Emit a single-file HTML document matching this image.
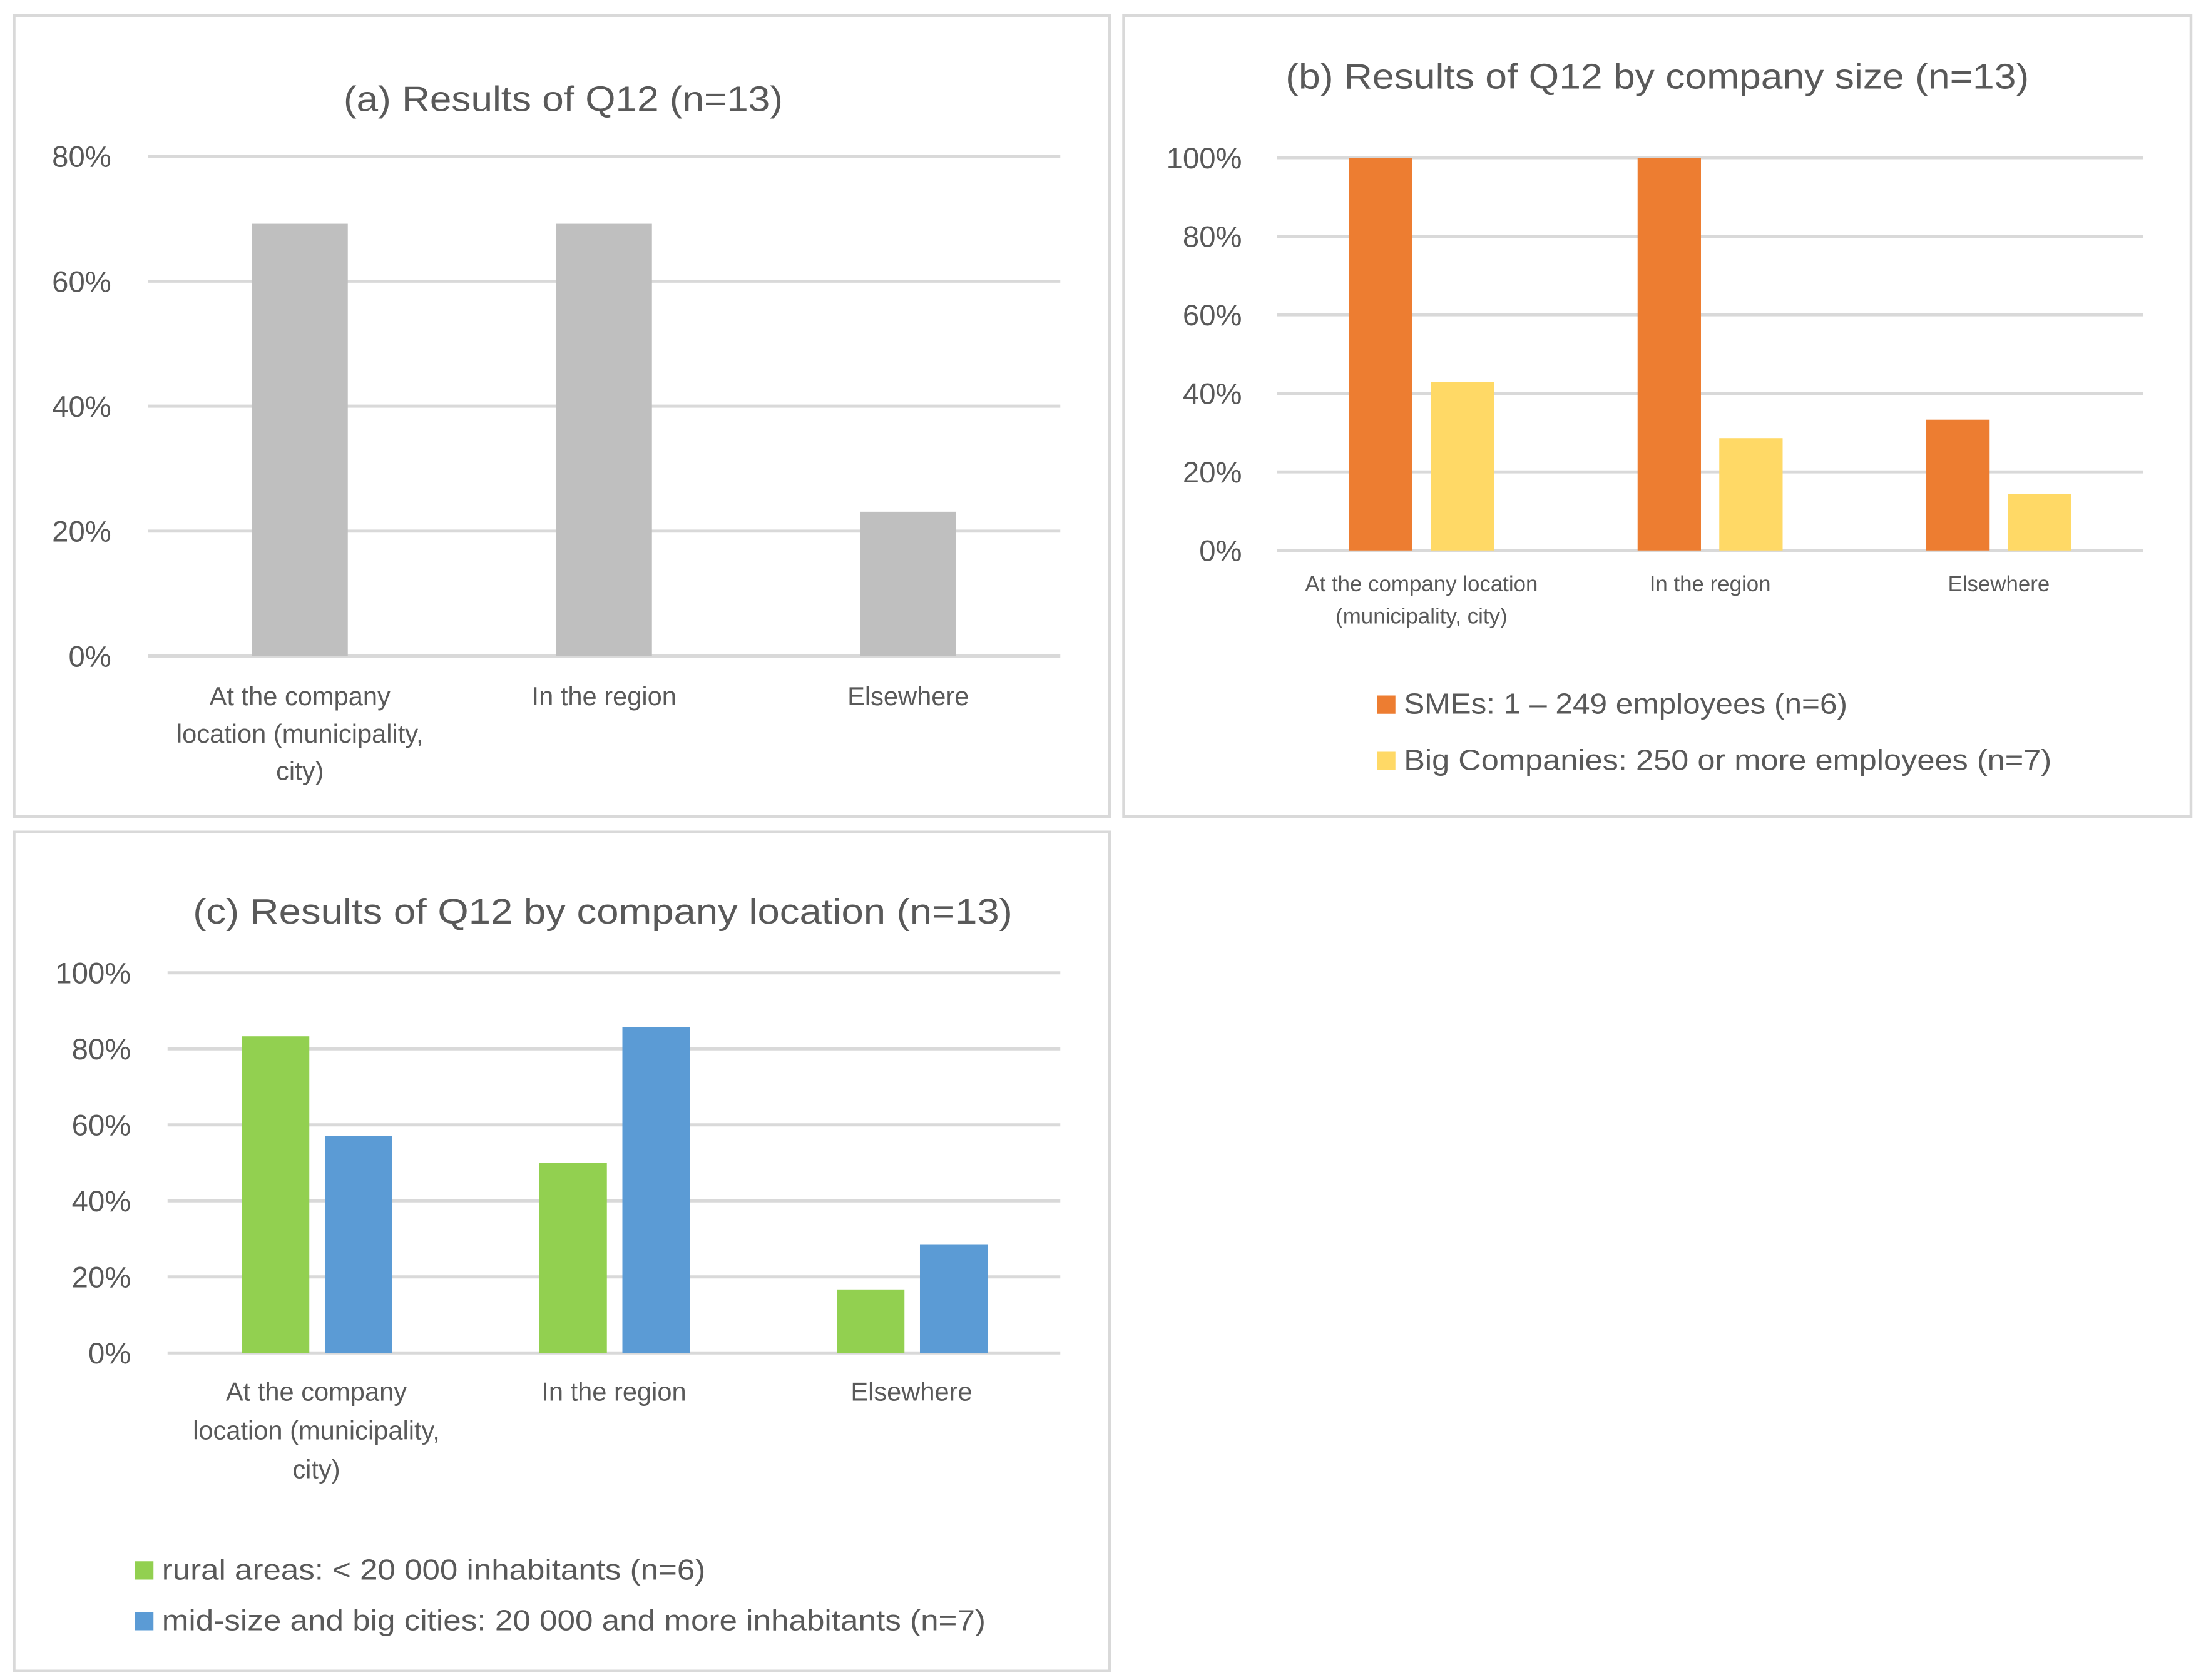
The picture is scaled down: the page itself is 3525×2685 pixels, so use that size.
<!DOCTYPE html>
<html><head><meta charset="utf-8"><style>
html,body{margin:0;padding:0;background:#fff;}
svg{display:block;font-family:"Liberation Sans",sans-serif;}
</style></head><body>
<svg id="root" width="3525" height="2685" viewBox="0 0 1566.67 1193.33" xmlns="http://www.w3.org/2000/svg">
<rect width="1566.67" height="1193.33" fill="#fff"/>
<g id="pa"></g>
<g id="pb"></g>
<g id="pc"></g>
</svg>
<script>
const categoriesA = [["At the company","location (municipality,","city)"],["In the region"],["Elsewhere"]];
const valuesA = [69.2, 69.2, 23.1];
const ticksA = [0, 20, 40, 60, 80];

const categoriesB = [["At the company location","(municipality, city)"],["In the region"],["Elsewhere"]];
const smeValues = [100, 100, 33.3];
const bigValues = [42.9, 28.6, 14.3];
const ticksB = [0, 20, 40, 60, 80, 100];

const categoriesC = [["At the company","location (municipality,","city)"],["In the region"],["Elsewhere"]];
const ruralValues = [83.3, 50, 16.7];
const cityValues = [57.1, 85.7, 28.6];
const ticksC = [0, 20, 40, 60, 80, 100];

const NS = "http://www.w3.org/2000/svg";
function mk(parent, tag, attrs, text){
  const e = document.createElementNS(NS, tag);
  for (const k in attrs) e.setAttribute(k, attrs[k]);
  if (text !== undefined) e.textContent = text;
  parent.appendChild(e);
  return e;
}
const TXT = "#595959", GRID = "#d9d9d9";

function panel(g, cfg){
  const box = mk(g, "rect", {x:cfg.box[0], y:cfg.box[1], width:cfg.box[2], height:cfg.box[3], fill:"#fff", stroke:GRID, "stroke-width":2});
  
  
  const t = mk(g, "text", {x:cfg.titleX, y:cfg.titleY, "text-anchor":"middle", "font-size":25, fill:TXT, textLength:cfg.titleLen, lengthAdjust:"spacingAndGlyphs"}, cfg.title);
  
  
  const maxV = cfg.ticks[cfg.ticks.length-1];
  const y = v => cfg.y0 - (v / maxV) * (cfg.y0 - cfg.yTop);
  cfg.ticks.forEach(tv => {
    const l = mk(g, "line", {x1:cfg.gx0, x2:cfg.gx1, y1:y(tv), y2:y(tv), stroke:GRID, "stroke-width":2.2});
    
    
    const tl = mk(g, "text", {x:cfg.tickX, y:y(tv)+7.5, "text-anchor":"end", "font-size":21, fill:TXT}, tv + "%");
    
    
  });
  const n = cfg.cats.length;
  const band = (cfg.gx1 - cfg.gx0) / n;
  const cx = i => cfg.gx0 + band * (i + 0.5);
  cfg.series.forEach((s, si) => {
    s.values.forEach((v, i) => {
      const x = cx(i) + cfg.offsets[si] - cfg.barW/2;
      const r = mk(g, "rect", {x:x, y:y(v), width:cfg.barW, height:cfg.y0 - y(v), fill:s.color});
      
      
    });
  });
  cfg.cats.forEach((lines, i) => {
    lines.forEach((ln, j) => {
      const ct = mk(g, "text", {x:cx(i), y:cfg.catY + j*cfg.catLH, "text-anchor":"middle", "font-size":cfg.catFS, fill:TXT}, ln);
      
      
    });
  });
  if (cfg.legend){
    cfg.series.forEach((s, si) => {
      const ly = cfg.legend.y[si];
      const sw = mk(g, "rect", {x:cfg.legend.x, y:ly-13, width:13, height:13, fill:s.color});
      
      
      const lt = mk(g, "text", {x:cfg.legend.x+19, y:ly, "font-size":20.5, fill:TXT, textLength:cfg.legend.len[si], lengthAdjust:"spacingAndGlyphs"}, s.label);
      
      
    });
  }
}

panel(document.getElementById("pa"), {
  box:[10,11,778,569], title:"(a) Results of Q12 (n=13)", titleX:400, titleY:79, titleLen:312,
  ticks:ticksA, y0:466, yTop:111, gx0:105, gx1:753, tickX:79,
  cats:categoriesA, catY:501, catLH:26.5, catFS:18.5, barW:68, offsets:[0],
  series:[{key:"overall", color:"#bfbfbf", values:valuesA}]
});
panel(document.getElementById("pb"), {
  box:[798,11,758,569], title:"(b) Results of Q12 by company size (n=13)", titleX:1177, titleY:63, titleLen:528,
  ticks:ticksB, y0:391, yTop:112, gx0:907, gx1:1522, tickX:882,
  cats:categoriesB, catY:420, catLH:23, catFS:15.5, barW:45, offsets:[-29,29],
  series:[{key:"sme", color:"#ed7d31", values:smeValues, label:"SMEs: 1 \u2013 249 employees (n=6)"},
          {key:"big", color:"#ffd966", values:bigValues, label:"Big Companies: 250 or more employees (n=7)"}],
  legend:{x:978, y:[507,547], len:[315,460]}
});
panel(document.getElementById("pc"), {
  box:[10,591,778,596], title:"(c) Results of Q12 by company location (n=13)", titleX:428, titleY:656, titleLen:582,
  ticks:ticksC, y0:961, yTop:691, gx0:119, gx1:753, tickX:93,
  cats:categoriesC, catY:995, catLH:27.5, catFS:18.5, barW:48, offsets:[-29,30],
  series:[{key:"rural", color:"#92d050", values:ruralValues, label:"rural areas: < 20 000 inhabitants (n=6)"},
          {key:"city", color:"#5b9bd5", values:cityValues, label:"mid-size and big cities: 20 000 and more inhabitants (n=7)"}],
  legend:{x:96, y:[1122,1158], len:[386,585]}
});
</script>
</body></html>
